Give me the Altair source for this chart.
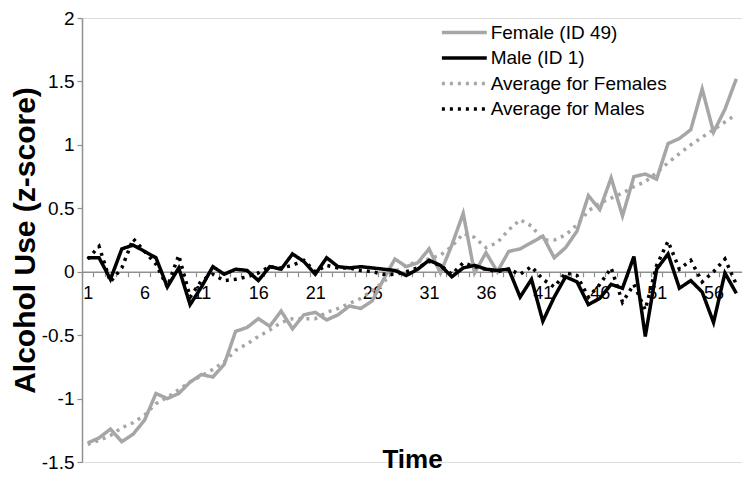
import altair as alt
import pandas as pd

time = list(range(1, 59))

female_id49 = [
    -1.35, -1.31, -1.24, -1.34, -1.28, -1.17, -0.96, -1.00, -0.96, -0.87,
    -0.81, -0.83, -0.73, -0.47, -0.44, -0.37, -0.43, -0.31, -0.45, -0.34,
    -0.32, -0.38, -0.34, -0.27, -0.29, -0.23, -0.06, 0.10, 0.04, 0.07,
    0.18, -0.01, 0.21, 0.46, -0.01, 0.15, 0.00, 0.16, 0.18, 0.23,
    0.28, 0.11, 0.19, 0.32, 0.60, 0.49, 0.74, 0.44, 0.75, 0.77,
    0.73, 1.01, 1.05, 1.12, 1.44, 1.10, 1.28, 1.52,
]
male_id1 = [
    0.11, 0.11, -0.06, 0.18, 0.21, 0.16, 0.11, -0.12, 0.03, -0.26,
    -0.12, 0.04, -0.02, 0.02, 0.01, -0.07, 0.04, 0.02, 0.14, 0.08,
    -0.02, 0.11, 0.04, 0.03, 0.04, 0.03, 0.02, 0.01, -0.03, 0.02,
    0.09, 0.05, -0.04, 0.03, 0.05, 0.02, 0.01, 0.02, -0.20, -0.06,
    -0.39, -0.20, -0.04, -0.08, -0.26, -0.21, -0.10, -0.13, 0.12, -0.51,
    0.02, 0.14, -0.13, -0.07, -0.16, -0.40, -0.01, -0.17,
]
avg_females = [
    -1.36, -1.33, -1.29, -1.23, -1.19, -1.13, -1.04, -0.99, -0.93, -0.87,
    -0.82, -0.77, -0.71, -0.62, -0.57, -0.51, -0.46, -0.40, -0.37, -0.37,
    -0.37, -0.32, -0.29, -0.25, -0.21, -0.15, -0.08, 0.00, 0.05, 0.08,
    0.10, 0.13, 0.20, 0.30, 0.27, 0.19, 0.23, 0.33, 0.41, 0.36,
    0.25, 0.25, 0.29, 0.37, 0.48, 0.54, 0.58, 0.62, 0.67, 0.71,
    0.78, 0.86, 0.93, 1.00, 1.06, 1.12, 1.18, 1.24,
]
avg_males = [
    0.10, 0.20, -0.08, 0.03, 0.26, 0.16, 0.06, -0.12, 0.13, -0.20,
    -0.07, -0.02, -0.07, -0.06, -0.04, -0.01, 0.04, 0.03, 0.05, 0.09,
    0.00, 0.05, 0.03, 0.03, 0.01, 0.00, -0.02, -0.02, 0.00, 0.03,
    0.08, 0.05, -0.02, 0.07, 0.04, 0.02, 0.00, 0.02, -0.02, 0.04,
    -0.06, -0.12, -0.01, -0.03, -0.20, -0.10, 0.03, -0.24, -0.10, -0.30,
    0.05, 0.24, 0.02, 0.09, -0.08, 0.00, 0.10, -0.10,
]

series_names = ["Female (ID 49)", "Male (ID 1)", "Average for Females", "Average for Males"]
y_ticks = [-1.5, -1.0, -0.5, 0.0, 0.5, 1.0, 1.5, 2.0]

# drawing order: averages under individual lines
draw_order = [
    ("Average for Females", avg_females),
    ("Female (ID 49)", female_id49),
    ("Average for Males", avg_males),
    ("Male (ID 1)", male_id1),
]
rows = []
for name, vals in draw_order:
    for t, v in zip(time, vals):
        rows.append({"Time": t, "value": v, "series": name})
df = pd.DataFrame(rows)

W, H = 660, 444
half = W / 58 / 2
zero_from_top = H * 2 / 3.5
FONT = "Liberation Sans"
GRAY_AXIS = "#8f8f8f"

# legend: long horizontal stroke drawn by a custom path (scaled by sqrt(size)/2)
SYM_SIZE = 126
sym_r = SYM_SIZE ** 0.5 / 2
legend = alt.Legend(
    title=None, orient="none", legendX=356 + 3 * sym_r, legendY=5,
    symbolType="M-4,0H4", symbolSize=SYM_SIZE, symbolStrokeWidth=3.5,
    symbolFillColor="transparent",
    labelFont=FONT, labelFontSize=19, labelColor="#000000",
    labelOffset=3 * sym_r,
    rowPadding=5.5, padding=0, labelLimit=300,
)

color = alt.Color(
    "series:N",
    scale=alt.Scale(domain=series_names, range=["#a6a6a6", "#000000", "#a6a6a6", "#000000"]),
    legend=legend,
)
dash = alt.StrokeDash(
    "series:N",
    scale=alt.Scale(domain=series_names, range=[[1, 0], [1, 0], [3, 5], [3, 5]]),
    legend=legend,
)

x_axis = alt.Axis(
    values=time, tickOffset=-half, labelOffset=half,
    labelExpr="(datum.value - 1) % 5 == 0 ? datum.label : ''",
    labelOverlap=False, labelFlush=False,
    offset=-(H - zero_from_top), grid=False,
    domainColor=GRAY_AXIS, domainWidth=1.5, tickColor=GRAY_AXIS, tickWidth=1.2, tickSize=5,
    labelFont=FONT, labelFontSize=18, labelColor="#000000", labelPadding=8,
    title="Time", titleFont=FONT, titleFontSize=26, titleFontWeight="bold",
    titleColor="#000000", titleY=188, titleBaseline="middle",
)
y_axis = alt.Axis(
    values=y_ticks, labelExpr="datum.value + ''", grid=False,
    domainColor=GRAY_AXIS, domainWidth=1.5, tickColor=GRAY_AXIS, tickWidth=1.2, tickSize=5,
    labelFont=FONT, labelFontSize=19, labelColor="#000000", labelPadding=3,
    title="Alcohol Use (z-score)", titleFont=FONT, titleFontSize=30, titleFontWeight="bold",
    titleColor="#000000", titleX=-57, titleY=H / 2, titleAngle=270,
    titleBaseline="middle", titleAlign="center",
)

chart = (
    alt.Chart(df)
    .mark_line(strokeWidth=3.5, strokeJoin="miter")
    .encode(
        x=alt.X("Time:Q", scale=alt.Scale(domain=[0.5, 58.5], nice=False, zero=False), axis=x_axis),
        y=alt.Y("value:Q", scale=alt.Scale(domain=[-1.5, 2.0], nice=False), axis=y_axis),
        color=color,
        strokeDash=dash,
        detail="series:N",
    )
    .properties(
        width=W, height=H,
        autosize=alt.AutoSizeParams(type="none"),
        padding={"left": 74, "top": 10, "right": 0, "bottom": 11},
    )
    .configure_view(stroke=None)
    .configure(background="#ffffff")
)

chart.save("out.html", embed_options={"renderer": "svg", "actions": False})
